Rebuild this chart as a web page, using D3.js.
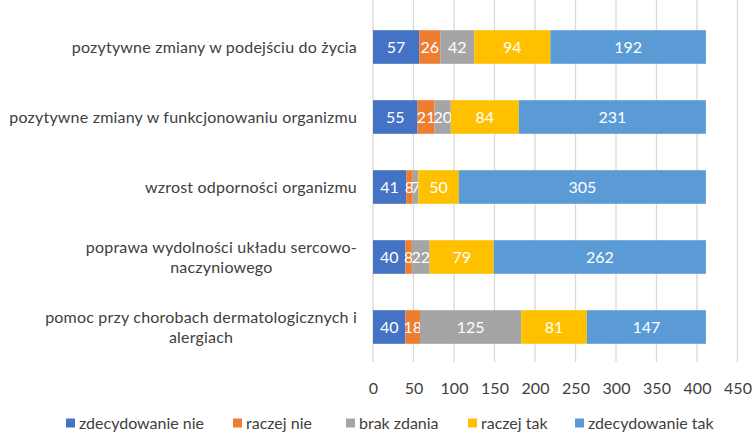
<!DOCTYPE html>
<html>
<head>
<meta charset="utf-8">
<script src="https://cdn.jsdelivr.net/npm/d3@7"></script>
<style>
  body { margin: 0; background: #fff; }
  text { font-family: "Lato", "Open Sans", sans-serif; }
</style>
</head>
<body>
<div id="chart"></div>
<script>
// categories (top to bottom), each label split into lines as in the picture
const categories = [
  ["pozytywne  zmiany w podejściu do życia"],
  ["pozytywne  zmiany w funkcjonowaniu organizmu"],
  ["wzrost odporności organizmu"],
  ["poprawa wydolności układu sercowo-", "naczyniowego"],
  ["pomoc przy chorobach dermatologicznych i", "alergiach"]
];
const seriesNames = ["zdecydowanie nie", "raczej nie", "brak zdania", "raczej tak", "zdecydowanie tak"];
const zdecydowanieNie = [57, 55, 41, 40, 40];
const raczejNie = [26, 21, 8, 8, 18];
const brakZdania = [42, 20, 7, 22, 125];
const raczejTak = [94, 84, 50, 79, 81];
const zdecydowanieTak = [192, 231, 305, 262, 147];
const xTicks = [0, 50, 100, 150, 200, 250, 300, 350, 400, 450];
const colors = ["#4472C4", "#ED7D31", "#A5A5A5", "#FFC000", "#5B9BD5"];

const W = 753, H = 433;
const plotLeft = 373, plotRight = 737.5, plotTop = 12, plotBottom = 362;

const values = [zdecydowanieNie, raczejNie, brakZdania, raczejTak, zdecydowanieTak];
const rows = categories.map((c, i) => {
  const r = { idx: i };
  seriesNames.forEach((s, j) => r[s] = values[j][i]);
  return r;
});
const stacked = d3.stack().keys(seriesNames)(rows);

const x = d3.scaleLinear().domain([0, 450]).range([plotLeft, plotRight]);
const y = d3.scaleBand().domain(d3.range(categories.length)).range([plotTop, plotBottom]).paddingInner(0.52).paddingOuter(0.26);

const svg = d3.select("#chart").append("svg").attr("width", W).attr("height", H);

// vertical gridlines
svg.append("g").selectAll("line").data(xTicks).enter().append("line")
  .attr("x1", d => x(d)).attr("x2", d => x(d))
  .attr("y1", 0).attr("y2", plotBottom)
  .attr("stroke", "#d9d9d9").attr("stroke-width", 1.3);

// bars
const layer = svg.append("g").selectAll("g").data(stacked).enter().append("g")
  .attr("fill", (d, i) => colors[i]);
layer.selectAll("rect").data(d => d).enter().append("rect")
  .attr("x", d => x(d[0]))
  .attr("width", d => x(d[1]) - x(d[0]))
  .attr("y", (d, i) => y(i))
  .attr("height", y.bandwidth());

// data labels
layer.selectAll("text").data(d => d).enter().append("text")
  .attr("x", d => (x(d[0]) + x(d[1])) / 2)
  .attr("y", (d, i) => y(i) + y.bandwidth() / 2)
  .attr("dy", "0.36em")
  .attr("text-anchor", "middle")
  .attr("fill", "#fff")
  .style("font-size", "16px")
  .text(d => d[1] - d[0]);

// x axis labels
const xAxis = d3.axisBottom(x).tickValues(xTicks).tickSize(0).tickPadding(0);
const gx = svg.append("g").attr("transform", "translate(0, 383)").call(xAxis);
gx.select(".domain").remove();
gx.selectAll("text").attr("fill", "#404040").style("font-size", "16px")
  .style("font-family", "Lato, sans-serif");

// category labels (multi-line centered, right-aligned block)
const labelRight = 357;
categories.forEach((lines, i) => {
  const g = svg.append("g");
  const cy = y(i) + y.bandwidth() / 2;
  const lh = 19.5;
  const texts = lines.map((ln, k) => g.append("text")
    .attr("y", cy + (k - (lines.length - 1) / 2) * lh)
    .attr("dy", "0.36em")
    .attr("fill", "#404040")
    .style("font-size", "16px")
    .style("letter-spacing", "0.2px")
    .text(ln));
  const maxW = d3.max(texts, t => t.node().getComputedTextLength());
  texts.forEach(t => t.attr("x", labelRight - maxW / 2).attr("text-anchor", "middle"));
});

// legend
const legendX = [66, 233, 346, 468, 575];
const lg = svg.append("g").selectAll("g").data(seriesNames).enter().append("g")
  .attr("transform", (d, i) => `translate(${legendX[i]}, 423)`);
lg.append("rect").attr("x", 0).attr("y", -4.5).attr("width", 9).attr("height", 9)
  .attr("fill", (d, i) => colors[i]);
lg.append("text").attr("x", 13).attr("dy", "0.36em")
  .attr("fill", "#404040").style("font-size", "16px").text(d => d);
</script>
</body>
</html>
